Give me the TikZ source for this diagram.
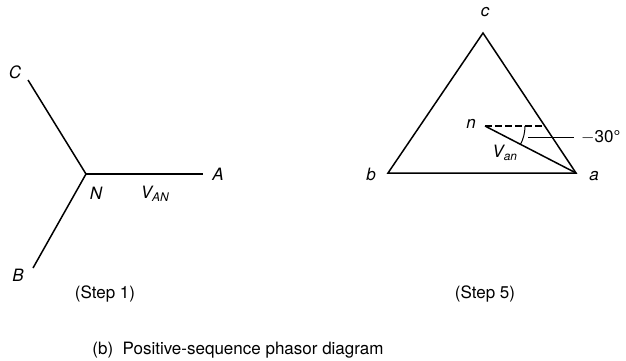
\documentclass[tikz,border=0pt]{standalone}
\usepackage{fontspec}
\setmainfont{TeX Gyre Heros}
\usetikzlibrary{calc}
\begin{document}
\begin{tikzpicture}[x=1pt,y=-1pt,
  ph/.style={line width=1.5pt},
  lbl/.style={font=\fontsize{17}{19}\selectfont\itshape, inner sep=0pt},
  txt/.style={font=\fontsize{17}{19}\selectfont, inner sep=0pt}]
\useasboundingbox (0,0) rectangle (626,360);
% Step 1
\coordinate (N) at (86,174);
\coordinate (Ce) at (28,80);
\coordinate (Be) at (33,268);
\coordinate (Ae) at (203,174);
\draw[ph] (Ce) -- (N) -- (Be);
\draw[ph] (N) -- (Ae);
\node[lbl] (C) at (15,72) {C};
\node[lbl] (B) at (18,275) {B};
\node[lbl] (A) at (218,174) {A};
\node[lbl] (Nl) at (96,193) {N};
\node[lbl] (VAN) at (155,194) {V\textsubscript{AN}};
\node[txt] (s1) at (105,294) {(Step 1)};
% Step 5
\coordinate (c) at (483,33);
\coordinate (b) at (388,173);
\coordinate (a) at (576,173);
\coordinate (n) at (485,126);
\draw[ph, line join=miter] (c) -- (b) -- (a) -- cycle;
\draw[ph] (n) -- (a);
\draw[ph, dash pattern=on 7pt off 3pt] (n) -- (543,126);
\draw[line width=1pt] ($(n)+(40,0)$) arc[start angle=0, end angle=28, radius=40];
\draw[line width=1pt] (528,137) -- (574,137);
\node[txt, anchor=west] (ang) at (581,137) {$-$30°};
\node[lbl] (cl) at (485,12) {c};
\node[lbl] (bl) at (371,174) {b};
\node[lbl] (al) at (594,176) {a};
\node[lbl] (nl) at (471,124) {n};
\node[lbl] (Van) at (505,153) {V\textsubscript{an}};
\node[txt] (s5) at (485,294) {(Step 5)};
\node[txt] (cap) at (238,350) {(b)\ \ Positive-sequence phasor diagram};
\end{tikzpicture}
\end{document}
